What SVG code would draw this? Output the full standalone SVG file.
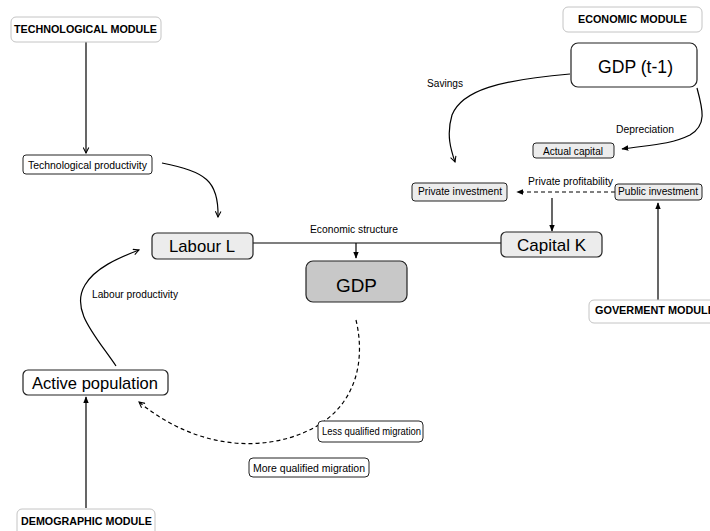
<svg xmlns="http://www.w3.org/2000/svg" width="710" height="531" viewBox="0 0 710 531">
  <style>
    text { font-family: "Liberation Sans", Arial, sans-serif; fill: #000; }
    .module rect { fill: #fff; stroke: #c4c4c4; stroke-width: 1; }
    .module text { font-size: 10px; font-weight: bold; }
    .small rect { stroke: #222; stroke-width: 1; }
    .small text { font-size: 10px; }
    .big rect { stroke: #222; stroke-width: 1.2; }
    .grey rect { fill: #ececec; }
    .white rect { fill: #fff; }
    .label { font-size: 10px; }
    .conn path, .conn line { fill: none; stroke: #000; stroke-width: 1.2; }
    .conn .dash { stroke-dasharray: 4 3; }
  </style>
  <defs>
    <marker id="arrow" viewBox="0 0 10 10" refX="9" refY="5" markerWidth="7" markerHeight="7" orient="auto-start-reverse" markerUnits="userSpaceOnUse">
      <path d="M1,1 L9,5 L1,9" fill="none" stroke="#000" stroke-width="1.5"/>
    </marker>
    <marker id="tri" viewBox="0 0 10 10" refX="9" refY="5" markerWidth="7" markerHeight="7" orient="auto" markerUnits="userSpaceOnUse">
      <path d="M0,1 L10,5 L0,9 Z" fill="#000"/>
    </marker>
  </defs>

  <rect width="710" height="531" fill="#fff"/>

  <!-- connectors -->
  <g id="connectors" class="conn">
    <line x1="86" y1="42" x2="86" y2="153" marker-end="url(#arrow)"/>
    <path d="M162,163 C205,172 219,180 218,217" marker-end="url(#arrow)"/>
    <line x1="253" y1="243" x2="501" y2="243"/>
    <line x1="356" y1="243" x2="356" y2="258" marker-end="url(#tri)"/>
    <path d="M570,74 C500,80 462,90 452,115 C446,135 451,150 455,162" marker-end="url(#arrow)"/>
    <path d="M697,88 C703,110 707,125 690,135 C670,145 648,145 622,149" marker-end="url(#tri)"/>
    <path class="dash" d="M615,192 L517,192" marker-end="url(#tri)"/>
    <line x1="552" y1="198" x2="552" y2="231" marker-end="url(#tri)"/>
    <line x1="658" y1="300" x2="658" y2="203" marker-end="url(#tri)"/>
    <path d="M116,366 C95,335 70,310 85,285 C95,268 118,258 139,250" marker-end="url(#arrow)"/>
    <line x1="86" y1="508" x2="86" y2="397" marker-end="url(#tri)"/>
    <path class="dash" d="M356,320 C366,362 356,410 305,432 C265,450 200,452 139,402" marker-end="url(#arrow)"/>
  </g>

  <!-- connector labels -->
  <g id="labels">
    <text class="label" x="310" y="233" textLength="88" lengthAdjust="spacingAndGlyphs">Economic structure</text>
    <text class="label" x="427" y="87" textLength="36" lengthAdjust="spacingAndGlyphs">Savings</text>
    <text class="label" x="616" y="133" textLength="58" lengthAdjust="spacingAndGlyphs">Depreciation</text>
    <text class="label" x="528" y="185" textLength="85" lengthAdjust="spacingAndGlyphs">Private profitability</text>
    <text class="label" x="92" y="298" textLength="86" lengthAdjust="spacingAndGlyphs">Labour productivity</text>
  </g>

  <!-- nodes -->
  <g id="technological-module" class="module">
    <rect x="11" y="17" width="150" height="25" rx="5"/>
    <text x="14" y="33" textLength="143" lengthAdjust="spacingAndGlyphs">TECHNOLOGICAL  MODULE</text>
  </g>
  <g id="economic-module" class="module">
    <rect x="563" y="7" width="139" height="25" rx="5"/>
    <text x="578" y="23" textLength="109" lengthAdjust="spacingAndGlyphs">ECONOMIC  MODULE</text>
  </g>
  <g id="government-module" class="module">
    <rect x="589" y="300" width="130" height="23" rx="5"/>
    <text x="595" y="314" textLength="120" lengthAdjust="spacingAndGlyphs">GOVERMENT  MODULE</text>
  </g>
  <g id="demographic-module" class="module">
    <rect x="17" y="509" width="138" height="30" rx="5"/>
    <text x="21" y="525" textLength="131" lengthAdjust="spacingAndGlyphs">DEMOGRAPHIC  MODULE</text>
  </g>

  <g id="technological-productivity" class="small white">
    <rect x="23" y="155" width="129" height="19" rx="3"/>
    <text x="28" y="169" textLength="119" lengthAdjust="spacingAndGlyphs">Technological productivity</text>
  </g>
  <g id="labour" class="big grey">
    <rect x="152" y="233" width="101" height="26" rx="5"/>
    <text x="169" y="252" font-size="17" textLength="66" lengthAdjust="spacingAndGlyphs">Labour L</text>
  </g>
  <g id="capital" class="big grey">
    <rect x="501" y="232" width="101" height="25" rx="5"/>
    <text x="517" y="251" font-size="17" textLength="69" lengthAdjust="spacingAndGlyphs">Capital K</text>
  </g>
  <g id="gdp" class="big">
    <rect x="306" y="261" width="101" height="41" rx="7" fill="#c8c8c8"/>
    <text x="336" y="292" font-size="19" textLength="41" lengthAdjust="spacingAndGlyphs">GDP</text>
  </g>
  <g id="gdp-t-1" class="big white">
    <rect x="571" y="43" width="126" height="44" rx="7"/>
    <text x="598" y="73" font-size="18" textLength="75" lengthAdjust="spacingAndGlyphs">GDP (t-1)</text>
  </g>
  <g id="actual-capital" class="small grey">
    <rect x="533" y="143" width="81" height="15" rx="3"/>
    <text x="543" y="155" textLength="60" lengthAdjust="spacingAndGlyphs">Actual capital</text>
  </g>
  <g id="private-investment" class="small grey">
    <rect x="412" y="183" width="95" height="18" rx="3"/>
    <text x="418" y="195" textLength="84" lengthAdjust="spacingAndGlyphs">Private investment</text>
  </g>
  <g id="public-investment" class="small grey">
    <rect x="615" y="184" width="87" height="16" rx="3"/>
    <text x="618" y="195" textLength="80" lengthAdjust="spacingAndGlyphs">Public investment</text>
  </g>
  <g id="active-population" class="big white">
    <rect x="23" y="370" width="145" height="25" rx="5"/>
    <text x="32" y="389" font-size="17" textLength="126" lengthAdjust="spacingAndGlyphs">Active population</text>
  </g>
  <g id="less-qualified-migration" class="small white">
    <rect x="318" y="421" width="105" height="21" rx="4"/>
    <text x="322" y="435" textLength="99" lengthAdjust="spacingAndGlyphs">Less qualified migration</text>
  </g>
  <g id="more-qualified-migration" class="small white">
    <rect x="249" y="458" width="120" height="19" rx="4"/>
    <text x="253" y="472" textLength="112" lengthAdjust="spacingAndGlyphs">More qualified migration</text>
  </g>
</svg>
